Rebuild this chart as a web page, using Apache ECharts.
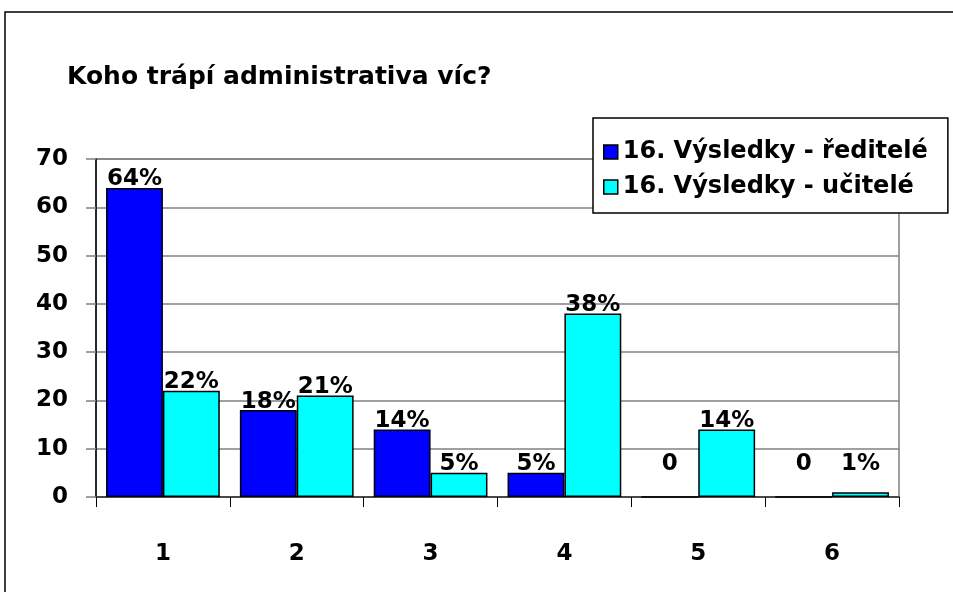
<!DOCTYPE html>
<html>
<head>
<meta charset="utf-8">
<script src="https://cdn.jsdelivr.net/npm/echarts@6/dist/echarts.min.js"></script>
<style>
  html, body { margin: 0; padding: 0; background: #fff; }
  #chart { width: 953px; height: 592px; }
</style>
</head>
<body>
<div id="chart"></div>
<script>
const titleText = 'Koho trápí administrativa víc?'
const categories = ['1', '2', '3', '4', '5', '6']
const seriesNames = ['16. Výsledky - ředitelé', '16. Výsledky - učitelé']
const reditele = [64, 18, 14, 5, 0, 0]
const ucitele = [22, 21, 5, 38, 14, 1]

const font = "'Comic Sans MS', 'DejaVu Sans', sans-serif"
const gridTop = 159
const gridBottom = 95
const yMax = 70
const pxPerUnit = (592 - gridTop - gridBottom) / yMax
const labelFloor = 5 // small bars keep their label at this height

function barData(values) {
  return values.map(v => {
    const lift = v < labelFloor ? (labelFloor - v) * pxPerUnit : 0
    return { value: v, label: { offset: [0, -lift] } }
  })
}

const chart = echarts.init(document.getElementById('chart'))

const labelStyle = {
  show: true,
  position: 'top',
  distance: -3,
  color: '#000',
  fontFamily: font,
  fontWeight: 'bold',
  fontSize: 23,
  formatter: p => (p.value === 0 ? '0' : p.value + '%')
}

chart.setOption({
  animation: false,
  backgroundColor: '#fff',
  title: {
    text: titleText,
    left: 62,
    top: 60,
    textStyle: { fontFamily: font, fontWeight: 'bold', fontSize: 25, color: '#000' }
  },
  graphic: [{
    type: 'rect',
    shape: { x: 5, y: 12, width: 1000, height: 1000 },
    style: { fill: 'none', stroke: '#000', lineWidth: 1.5 },
    z: 100
  }],
  legend: {
    data: seriesNames,
    orient: 'vertical',
    left: 593,
    top: 118,
    padding: [22, 20, 14, 10],
    itemGap: 11,
    itemWidth: 14,
    itemHeight: 14,
    itemStyle: { borderColor: '#000', borderWidth: 1.5 },
    icon: 'rect',
    backgroundColor: '#fff',
    borderColor: '#000',
    borderWidth: 1.5,
    textStyle: { fontFamily: font, fontWeight: 'bold', fontSize: 24, color: '#000', padding: [0, 0, 0, 0] },
    z: 10
  },
  grid: {
    left: 96,
    right: 54,
    top: gridTop,
    bottom: gridBottom,
    show: true,
    borderColor: '#808080',
    borderWidth: 1.5
  },
  xAxis: {
    type: 'category',
    data: categories,
    axisLine: { lineStyle: { color: '#333', width: 1.5 } },
    axisTick: { show: true, length: 10, lineStyle: { color: '#000', width: 1 } },
    axisLabel: { margin: 46, color: '#000', fontFamily: font, fontWeight: 'bold', fontSize: 23 }
  },
  yAxis: {
    type: 'value',
    min: 0,
    max: yMax,
    interval: 10,
    axisLine: { show: true, lineStyle: { color: '#000', width: 1.5 } },
    axisTick: { show: true, inside: false, length: 10, lineStyle: { color: '#808080', width: 1.5 } },
    splitLine: { show: true, lineStyle: { color: '#808080', width: 1.5 } },
    axisLabel: { margin: 28, color: '#000', fontFamily: font, fontWeight: 'bold', fontSize: 23 }
  },
  series: [
    {
      name: seriesNames[0],
      type: 'bar',
      data: barData(reditele),
      barGap: '0%',
      barCategoryGap: '15%',
      itemStyle: { color: '#0000ff', borderColor: '#000', borderWidth: 1.5 },
      label: labelStyle
    },
    {
      name: seriesNames[1],
      type: 'bar',
      data: barData(ucitele),
      barGap: '0%',
      barCategoryGap: '15%',
      itemStyle: { color: '#00ffff', borderColor: '#000', borderWidth: 1.5 },
      label: labelStyle
    }
  ]
})
</script>
</body>
</html>
